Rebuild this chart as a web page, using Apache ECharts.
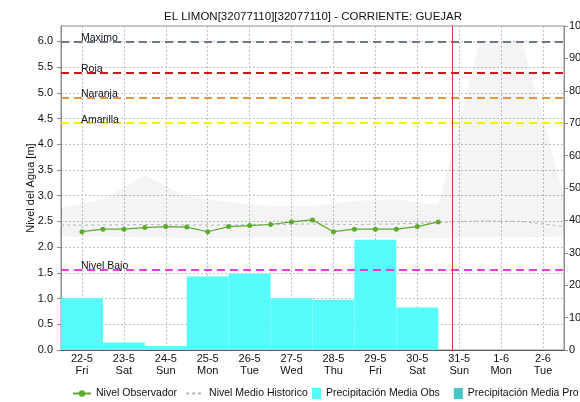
<!DOCTYPE html>
<html>
<head>
<meta charset="utf-8">
<script src="https://cdn.jsdelivr.net/npm/echarts@6/dist/echarts.min.js"></script>
<style>
  html, body { margin: 0; padding: 0; background: #ffffff; }
  #chart { width: 580px; height: 402px; }
</style>
</head>
<body>
<div id="chart"></div>
<script>
// Daily categories (date + weekday)
const dayLabels = ['22-5', '23-5', '24-5', '25-5', '26-5', '27-5', '28-5', '29-5', '30-5', '31-5', '1-6', '2-6'];
const weekDays  = ['Fri', 'Sat', 'Sun', 'Mon', 'Tue', 'Wed', 'Thu', 'Fri', 'Sat', 'Sun', 'Mon', 'Tue'];

// Daily mean precipitation (right axis)
const precipObs = [16.0, 2.3, 1.2, 22.7, 23.5, 16.0, 15.5, 34.0, 13.1, null, null, null];
const precipPro = [null, null, null, null, null, null, null, null, null, null, null, null];

// Observed water level, every 12 hours
const obsTimes = [
  '2020-05-22 00:00', '2020-05-22 12:00', '2020-05-23 00:00', '2020-05-23 12:00',
  '2020-05-24 00:00', '2020-05-24 12:00', '2020-05-25 00:00', '2020-05-25 12:00',
  '2020-05-26 00:00', '2020-05-26 12:00', '2020-05-27 00:00', '2020-05-27 12:00',
  '2020-05-28 00:00', '2020-05-28 12:00', '2020-05-29 00:00', '2020-05-29 12:00',
  '2020-05-30 00:00', '2020-05-30 12:00'
];
const obsLevel = [2.30, 2.35, 2.35, 2.38, 2.40, 2.39, 2.30, 2.40, 2.42, 2.44, 2.49, 2.53,
                  2.30, 2.35, 2.35, 2.35, 2.40, 2.49];

// Historical statistics of the level
const histTimes = [
  '2020-05-21 12:00', '2020-05-22 12:00', '2020-05-23 12:00', '2020-05-24 12:00',
  '2020-05-25 12:00', '2020-05-26 12:00', '2020-05-27 12:00', '2020-05-28 12:00',
  '2020-05-29 12:00', '2020-05-30 12:00', '2020-05-31 12:00', '2020-06-01 12:00',
  '2020-06-02 12:00'
];
const histMin  = [2.20, 2.20, 2.19, 2.18, 2.18, 2.19, 2.19, 2.18, 2.18, 2.18, 2.19, 2.19, 2.20];
const histMax  = [2.76, 2.93, 3.40, 2.98, 2.88, 2.80, 2.80, 2.90, 2.93, 2.82, 6.00, 6.00, 3.00];
const histMean = [2.43, 2.43, 2.44, 2.43, 2.43, 2.44, 2.45, 2.44, 2.45, 2.48, 2.51, 2.50, 2.40];

// Alert thresholds [m]
const thresholdNames  = ['Maximo', 'Roja', 'Naranja', 'Amarilla', 'Nivel Bajo'];
const thresholdValues = [6.0, 5.4, 4.9, 4.41, 1.57];
const thresholdColors = ['#6f7888', '#cc1a1a', '#dd9a45', '#f2f200', '#e040e0'];

// Current time marker and axis ranges
const nowTime = '2020-05-30 20:00';
const timeStart = '2020-05-21 12:00';
const timeEnd = '2020-06-02 12:00';
const levelMax = 6.3;
const precipMax = 100;

const FONT = 'Liberation Sans';
const toMs = s => new Date(s.replace(' ', 'T')).getTime();
const pairs = (times, vals) => times.map((t, i) => [toMs(t), vals[i]]);

const chart = echarts.init(document.getElementById('chart'), null, { renderer: 'canvas' });

const dotted = { type: [2, 2], color: '#c2c2c2', width: 1 };
const legendText = { fontSize: 10.5, color: '#111', fontFamily: FONT };

chart.setOption({
  animation: false,
  textStyle: { fontFamily: FONT },
  title: {
    text: 'EL LIMON[32077110][32077110] - CORRIENTE: GUEJAR',
    left: 308, top: 6, textAlign: 'center',
    textStyle: { fontSize: 11.5, fontWeight: 'normal', color: '#111', fontFamily: FONT }
  },
  grid: {
    left: 61, right: 16, top: 26, bottom: 52,
    show: true, borderColor: '#8c8c8c', borderWidth: 1,
    outerBoundsMode: 'none'
  },
  legend: [
    {
      data: [
        { name: 'Nivel Observador' },
        { name: 'Nivel Medio Historico', itemStyle: { opacity: 0 } }
      ],
      left: 72, top: 388, padding: 0,
      itemWidth: 18, itemHeight: 8, itemGap: 8,
      selectedMode: false,
      textStyle: legendText
    },
    {
      data: ['Precipitación Media Obs', 'Precipitación Media Pro'],
      left: 312, top: 388, padding: 0,
      icon: 'rect', itemWidth: 9, itemHeight: 11, itemGap: 14,
      selectedMode: false,
      textStyle: legendText
    }
  ],
  xAxis: [
    {
      type: 'category',
      data: dayLabels,
      boundaryGap: true,
      axisLine: { lineStyle: { color: '#444', type: [1, 1] } },
      axisTick: { show: false },
      axisLabel: {
        margin: 3, fontSize: 11, color: '#111', lineHeight: 12,
        formatter: (v, i) => v + '\n' + weekDays[i]
      },
      splitLine: { show: true, alignWithLabel: true, lineStyle: dotted }
    },
    {
      type: 'time',
      min: toMs(timeStart), max: toMs(timeEnd),
      show: false
    }
  ],
  yAxis: [
    {
      type: 'value',
      min: 0, max: levelMax, interval: 0.5,
      name: 'Nivel del Agua [m]',
      nameLocation: 'middle', nameGap: 25, nameMoveOverlap: false,
      nameTextStyle: { fontSize: 11, color: '#111', fontFamily: FONT },
      axisLine: { show: true, lineStyle: { color: '#8c8c8c' } },
      axisTick: { show: true, length: 4, lineStyle: { color: '#8c8c8c' } },
      axisLabel: {
        margin: 8, fontSize: 11, color: '#111', showMaxLabel: false,
        formatter: v => v.toFixed(1)
      },
      splitLine: { show: true, lineStyle: dotted }
    },
    {
      type: 'value',
      min: 0, max: precipMax, interval: 10,
      position: 'right',
      axisLine: { show: true, lineStyle: { color: '#8c8c8c' } },
      axisTick: { show: true, length: 4, lineStyle: { color: '#8c8c8c' } },
      axisLabel: { margin: 5, fontSize: 11, color: '#111' },
      splitLine: { show: false }
    }
  ],
  series: [
    {
      name: 'histLow', type: 'line',
      xAxisIndex: 1, yAxisIndex: 0,
      stack: 'hist', symbol: 'none',
      lineStyle: { width: 0, opacity: 0 },
      data: pairs(histTimes, histMin),
      silent: true, z: 1
    },
    {
      name: 'histBand', type: 'line',
      xAxisIndex: 1, yAxisIndex: 0,
      stack: 'hist', symbol: 'none',
      lineStyle: { width: 0, opacity: 0 },
      areaStyle: { color: 'rgba(0,0,0,0.062)' },
      data: pairs(histTimes, histMax.map((v, i) => v - histMin[i])),
      silent: true, z: 1
    },
    {
      name: 'Precipitación Media Obs', type: 'bar',
      xAxisIndex: 0, yAxisIndex: 1,
      barWidth: '100%', barGap: '-100%',
      itemStyle: { color: '#58fbfb' },
      data: precipObs, z: 2
    },
    {
      name: 'Precipitación Media Pro', type: 'bar',
      xAxisIndex: 0, yAxisIndex: 1,
      barWidth: '100%', barGap: '-100%',
      itemStyle: { color: '#45c6c8' },
      data: precipPro, z: 2
    },
    {
      name: 'Nivel Medio Historico', type: 'line',
      xAxisIndex: 1, yAxisIndex: 0,
      symbol: 'none',
      lineStyle: { color: '#b4b4b4', width: 1, type: [3, 3] },
      itemStyle: { color: '#b4b4b4' },
      data: pairs(histTimes, histMean), z: 3,
      markLine: {
        silent: true, symbol: 'none',
        data: thresholdValues.map((v, i) => ({
          yAxis: v, name: thresholdNames[i],
          lineStyle: { color: thresholdColors[i], width: 2, type: [8, 5] },
          label: {
            show: true, position: 'insideStartTop', distance: [20, -2],
            formatter: thresholdNames[i],
            fontSize: 10.5, color: '#111', fontFamily: FONT
          }
        })).concat([{
          xAxis: toMs(nowTime),
          lineStyle: { color: '#d23a3a', width: 1, type: 'solid' },
          label: { show: false }
        }])
      }
    },
    {
      name: 'Nivel Observador', type: 'line',
      xAxisIndex: 1, yAxisIndex: 0,
      symbol: 'circle', symbolSize: 5,
      lineStyle: { color: '#5eaa2e', width: 1.2 },
      itemStyle: { color: '#5eaa2e' },
      data: pairs(obsTimes, obsLevel), z: 4
    }
  ]
});
</script>
</body>
</html>
